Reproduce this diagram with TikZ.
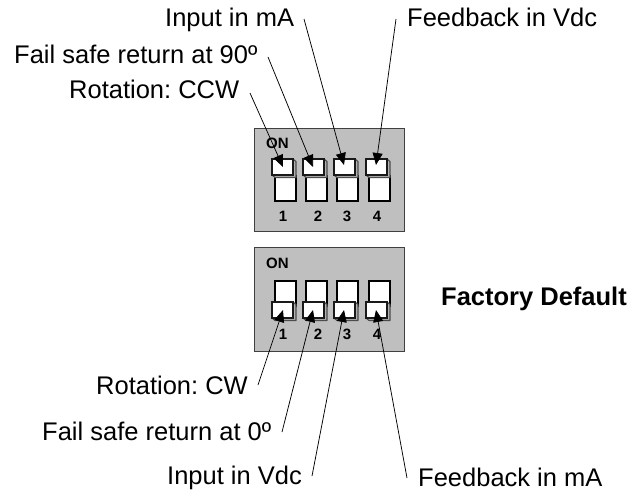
\documentclass[tikz,border=0pt]{standalone}
\usepackage{fontspec}
\setmainfont{Liberation Sans}
\frenchspacing
\usetikzlibrary{arrows.meta}
\tikzset{
  lbl/.style={anchor=base west,inner sep=0pt,font=\fontsize{25.5}{28}\selectfont},
  lblb/.style={lbl,font=\fontsize{25.5}{28}\selectfont\bfseries},
  pnum/.style={anchor=base,inner sep=0pt,font=\fontsize{15}{16}\selectfont\bfseries},
  panel/.style={draw=black!75,fill=black!25,line width=1pt},
  slotbox/.style={draw=black,fill=white,line width=1.2pt},
  knobside/.style={draw=black!70,fill=black!30,line width=1.1pt,line join=round},
  knobface/.style={draw=black!90,fill=white,line width=1.1pt},
  lead/.style={draw=black,line width=0.75pt,-{Triangle[length=12pt,width=10pt]}}
}
\newcommand{\dipsw}[3]{% x of slot left, y of slot top, y of knob top
  \draw[slotbox] (#1,#2) rectangle ++(21,25);
  \draw[knobside] (#1-3,#3+16) -- ++(3,2.5) -- ++(21,0) -- ++(0,-16) -- ++(-3,-2.5) -- ++(0,16) -- cycle;
  \draw[knobface] (#1-3,#3) rectangle ++(21,16);
}
\begin{document}
\begin{tikzpicture}[x=1pt,y=-1pt]
\useasboundingbox (0,0) rectangle (644,493);
% panels
\node[panel,minimum width=150pt,minimum height=103pt,inner sep=0pt,anchor=north west] (top) at (254,128) {};
\node[panel,minimum width=150pt,minimum height=104pt,inner sep=0pt,anchor=north west] (bot) at (254,247) {};
% switches
\foreach \x in {275,306,337,369}{\dipsw{\x}{176}{159}}
\foreach \x in {275,306,337,369}{\dipsw{\x}{281}{302}}
% panel text
\node[pnum,anchor=base west] (on1) at (266,148) {ON};
\node[pnum,anchor=base west] (on2) at (266,268) {ON};
\foreach \n/\x in {1/283,2/318,3/347,4/377}{
  \node[pnum] (a\n) at (\x,221) {\n};
  \node[pnum] (b\n) at (\x,339) {\n};
}
% labels
\node[lbl] (l1) at (165,26) {Input in mA};
\node[lbl] (l2) at (407,26) {Feedback in Vdc};
\node[lbl] (l3) at (14,63) {Fail safe return at 90º};
\node[lbl] (l4) at (69,98) {Rotation: CCW};
\node[lblb] (l5) at (441,305) {Factory Default};
\node[lbl] (l6) at (96,394) {Rotation: CW};
\node[lbl] (l7) at (42,440) {Fail safe return at 0º};
\node[lbl] (l8) at (167,484) {Input in Vdc};
\node[lbl] (l9) at (418,486) {Feedback in mA};
% connector ends
\coordinate (s1) at (304,19);  \coordinate (t1) at (344,165);
\coordinate (s2) at (396,19);  \coordinate (t2) at (376,165);
\coordinate (s3) at (268,57);  \coordinate (t3) at (313,167);
\coordinate (s4) at (250,93);  \coordinate (t4) at (283,167);
\coordinate (s6) at (258,385); \coordinate (t6) at (283,310);
\coordinate (s7) at (282,432); \coordinate (t7) at (313,310);
\coordinate (s8) at (312,476); \coordinate (t8) at (344,310);
\coordinate (s9) at (407,478); \coordinate (t9) at (376,310);
\foreach \i in {1,2,3,4,6,7,8,9}{\draw[lead] (s\i) -- (t\i);}
\end{tikzpicture}
\end{document}
